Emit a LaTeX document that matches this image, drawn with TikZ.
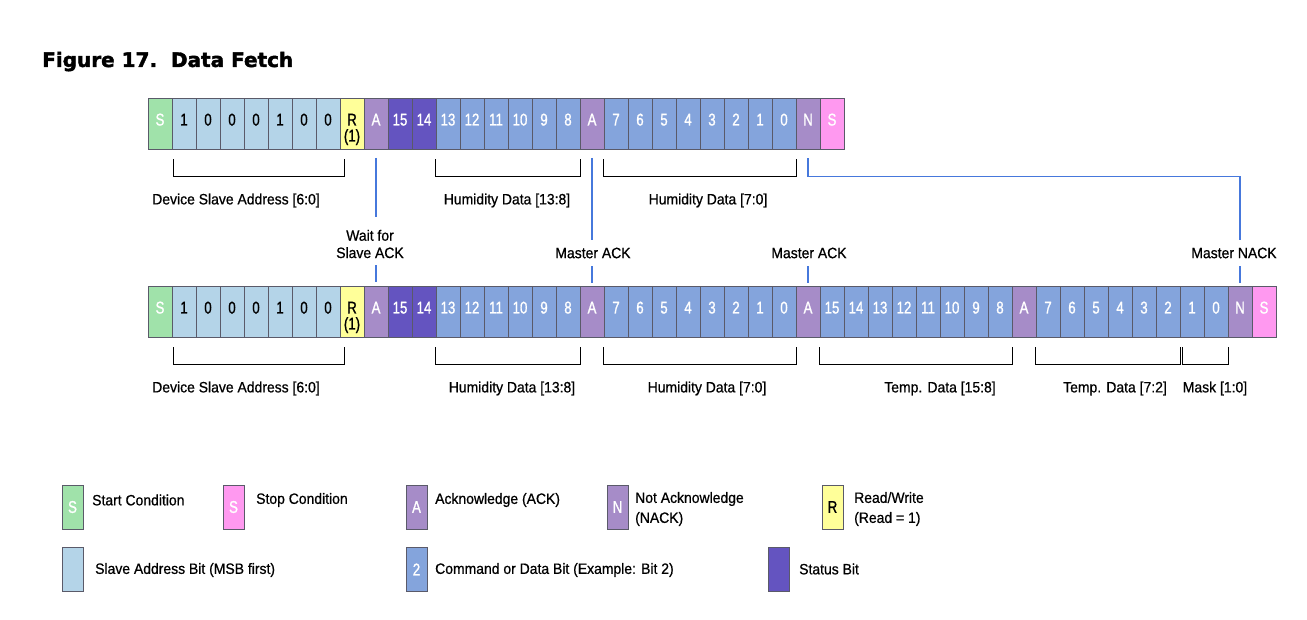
\documentclass[tikz,border=0pt]{standalone}
\usepackage{fontspec}
\setmainfont{Liberation Sans}[FakeStretch=0.93, FakeBold=0.7]
\newfontfamily\cellfont{Liberation Sans}[FakeStretch=0.78, FakeBold=1.1]
\newfontfamily\titlefont{DejaVu Sans}[FakeBold=2]
\usepackage{tikz}
\definecolor{startgreen}{RGB}{160,226,170}
\definecolor{stoppink}{RGB}{255,153,240}
\definecolor{addrblue}{RGB}{180,212,232}
\definecolor{rwyellow}{RGB}{255,255,153}
\definecolor{ackpurple}{RGB}{166,140,200}
\definecolor{statviolet}{RGB}{100,84,192}
\definecolor{datablue}{RGB}{132,164,220}
\definecolor{lineblue}{RGB}{70,120,220}
\definecolor{cellline}{RGB}{90,90,105}

\begin{document}
\begin{tikzpicture}[x=1pt, y=-1pt,
  bit/.style={
    draw=cellline, line width=0.8pt, minimum width=24pt, minimum height=51pt,
    inner sep=0pt, font=\cellfont\fontsize{17}{19}\selectfont,
    text height=12pt, text depth=8pt, text=white
  },
  startbit/.style={bit, fill=startgreen},
  stopbit/.style={bit, fill=stoppink},
  addrbit/.style={bit, fill=addrblue, text=black},
  rwbit/.style={bit, fill=rwyellow, text=black},
  ackbit/.style={bit, fill=ackpurple},
  statbit/.style={bit, fill=statviolet},
  databit/.style={bit, fill=datablue},
  subtext/.style={inner sep=0pt, font=\cellfont\fontsize{17}{19}\selectfont,
    text height=12pt, text depth=8pt},
  brkt/.style={draw, line width=1.1pt},
  fieldlbl/.style={font=\fontsize{15}{18}\selectfont, inner sep=0pt},
  ackline/.style={draw=lineblue, line width=1.5pt},
  ackname/.style={font=\fontsize{15}{17.3}\selectfont, inner sep=0pt, align=center},
  legbox/.style={
    draw=cellline, line width=0.8pt, minimum width=21pt, minimum height=44pt,
    inner sep=0pt, font=\cellfont\fontsize{17}{19}\selectfont, text=white
  },
  legtxt/.style={font=\fontsize{15}{18}\selectfont, anchor=west, inner sep=0pt, align=left},
]
\useasboundingbox (0,0) rectangle (1307,620);

%% ---- Title ----
\node[anchor=base west, inner sep=0pt, font=\titlefont\bfseries\fontsize{20}{24}\selectfont]
  (title) at (42,67) {Figure 17.\ \ Data Fetch};

%% ---- Top row: short fetch ----
\foreach \sty/\txt [count=\i] in {startbit/S, addrbit/1, addrbit/0, addrbit/0,
    addrbit/0, addrbit/1, addrbit/0, addrbit/0, rwbit/R, ackbit/A, statbit/15,
    statbit/14, databit/13, databit/12, databit/11, databit/10, databit/9,
    databit/8, ackbit/A, databit/7, databit/6, databit/5, databit/4, databit/3,
    databit/2, databit/1, databit/0, ackbit/N, stopbit/S}
  \node[\sty] (t\i) at (136+24*\i, 123.5) {\txt};
\node[subtext] (t9sub) at ([yshift=-16pt]t9.center) {(1)};

%% ---- Bottom row: full fetch ----
\foreach \sty/\txt [count=\i] in {startbit/S, addrbit/1, addrbit/0, addrbit/0,
    addrbit/0, addrbit/1, addrbit/0, addrbit/0, rwbit/R, ackbit/A, statbit/15,
    statbit/14, databit/13, databit/12, databit/11, databit/10, databit/9,
    databit/8, ackbit/A, databit/7, databit/6, databit/5, databit/4, databit/3,
    databit/2, databit/1, databit/0, ackbit/A, databit/15, databit/14,
    databit/13, databit/12, databit/11, databit/10, databit/9, databit/8,
    ackbit/A, databit/7, databit/6, databit/5, databit/4, databit/3, databit/2,
    databit/1, databit/0, ackbit/N, stopbit/S}
  \node[\sty] (b\i) at (136+24*\i, 311.5) {\txt};
\node[subtext] (b9sub) at ([yshift=-16pt]b9.center) {(1)};

%% ---- Field brackets, top ----
\draw[brkt] ([shift={(2pt,-10pt)}]t2.south west) -- ([shift={(2pt,-27pt)}]t2.south west) -| ([shift={(4pt,-10pt)}]t8.south east);
\draw[brkt] ([yshift=-10pt]t13.south west) -- ([yshift=-27pt]t13.south west) -| ([yshift=-10pt]t18.south east);
\draw[brkt] ([yshift=-10pt]t20.south west) -- ([yshift=-27pt]t20.south west) -| ([yshift=-10pt]t27.south east);
\node[fieldlbl] (ltaddr) at (236,200.5) {Device Slave Address [6:0]};
\node[fieldlbl] (lthum1) at (507,200.5) {Humidity Data [13:8]};
\node[fieldlbl] (lthum0) at (708,200.5) {Humidity Data [7:0]};

%% ---- Field brackets, bottom ----
\draw[brkt] ([shift={(2pt,-10pt)}]b2.south west) -- ([shift={(2pt,-27pt)}]b2.south west) -| ([shift={(4pt,-10pt)}]b8.south east);
\draw[brkt] ([yshift=-10pt]b13.south west) -- ([yshift=-27pt]b13.south west) -| ([yshift=-10pt]b18.south east);
\draw[brkt] ([yshift=-10pt]b20.south west) -- ([yshift=-27pt]b20.south west) -| ([yshift=-10pt]b27.south east);
\draw[brkt] ([yshift=-10pt]b29.south west) -- ([yshift=-27pt]b29.south west) -| ([yshift=-10pt]b36.south east);
\draw[brkt] ([yshift=-10pt]b38.south west) -- ([yshift=-27pt]b38.south west) -| ([yshift=-10pt]b43.south east);
\draw[brkt] ([shift={(3pt,-10pt)}]b44.south west) -- ([shift={(3pt,-27pt)}]b44.south west) -| ([yshift=-10pt]b45.south east);
\node[fieldlbl] (lbaddr) at (236,388.5) {Device Slave Address [6:0]};
\node[fieldlbl] (lbhum1) at (512,388.5) {Humidity Data [13:8]};
\node[fieldlbl] (lbhum0) at (707,388.5) {Humidity Data [7:0]};
\node[fieldlbl] (lbtmp1) at (940,388.5) {Temp. Data [15:8]};
\node[fieldlbl] (lbtmp0) at (1115,388.5) {Temp. Data [7:2]};
\node[fieldlbl] (lbmask) at (1215,388.5) {Mask [1:0]};

%% ---- ACK / NACK callouts ----
\node[ackname] (lwait)  at (370,244) {Wait for\\Slave ACK};
\node[ackname] (lmack1) at (593,253) {Master ACK};
\node[ackname] (lmack2) at (809,253) {Master ACK};
\node[ackname] (lnack)  at (1234,253) {Master NACK};

\draw[ackline, shorten <=8.5pt, shorten >=12.5pt] (t10.south) -- (t10.south |- lwait.north);
\draw[ackline, shorten <=7pt, shorten >=4pt] (b10.north |- lwait.south) -- (b10.north);
\draw[ackline, shorten <=8.5pt, shorten >=7.5pt] (t19.south) -- (t19.south |- lmack1.north);
\draw[ackline, shorten <=7.5pt, shorten >=3pt] (b19.north |- lmack1.south) -- (b19.north);
\draw[ackline, shorten <=7.5pt, shorten >=3pt] (b28.north |- lmack2.south) -- (b28.north);
\draw[ackline, shorten <=9pt, shorten >=7.5pt] (t28.south) -- ([yshift=-27pt]t28.south)
  -| (b46.north |- lnack.north);
\draw[ackline, shorten <=7.5pt, shorten >=3pt] (b46.north |- lnack.south) -- (b46.north);

%% ---- Legend ----
\node[legbox, fill=startgreen] (kstart) at (72.5,507) {S};
\node[legtxt] (kstarttxt) at (92,500) {Start Condition};
\node[legbox, fill=stoppink] (kstop) at (233.5,507) {S};
\node[legtxt] (kstoptxt) at (256,500) {Stop Condition};
\node[legbox, fill=ackpurple] (kack) at (416.5,507) {A};
\node[legtxt] (kacktxt) at (435,500) {Acknowledge (ACK)};
\node[legbox, fill=ackpurple] (knack) at (617.5,507) {N};
\node[legtxt] (knacktxt) at (635,509) {Not Acknowledge\\[2pt](NACK)};
\node[legbox, fill=rwyellow, text=black] (krw) at (832.5,507) {R};
\node[legtxt] (krwtxt) at (854,509) {Read/Write\\[2pt](Read = 1)};

\node[legbox, fill=addrblue] (kaddr) at (73,569.5) {};
\node[legtxt] (kaddrtxt) at (95,570) {Slave Address Bit (MSB first)};
\node[legbox, fill=datablue] (kdata) at (416.5,569.5) {2};
\node[legtxt] (kdatatxt) at (435,570) {Command or Data Bit (Example: Bit 2)};
\node[legbox, fill=statviolet] (kstat) at (778.5,569.5) {};
\node[legtxt] (kstattxt) at (799,569) {Status Bit};

\end{tikzpicture}
\end{document}
